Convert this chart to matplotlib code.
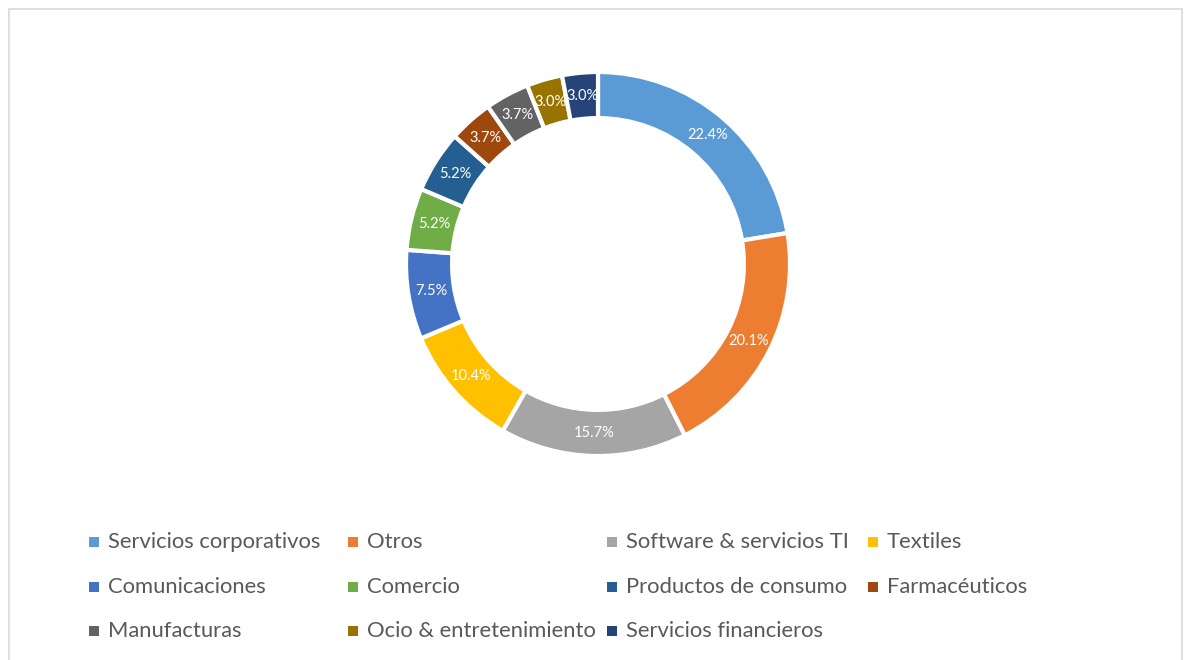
import matplotlib
matplotlib.use("Agg")
import matplotlib.pyplot as plt
from matplotlib.patches import Rectangle
import numpy as np

categories = ["Servicios corporativos", "Otros", "Software & servicios TI", "Textiles",
              "Comunicaciones", "Comercio", "Productos de consumo", "Farmacéuticos",
              "Manufacturas", "Ocio & entretenimiento", "Servicios financieros"]
values = [22.4, 20.1, 15.7, 10.4, 7.5, 5.2, 5.2, 3.7, 3.7, 3.0, 3.0]
colors = ["#5B9BD5", "#ED7D31", "#A5A5A5", "#FFC000", "#4472C4", "#70AD47",
          "#255E91", "#9E480E", "#636363", "#997300", "#264478"]

W, H = 1190, 660
fig = plt.figure(figsize=(W / 100, H / 100), dpi=100)
fig.patch.set_facecolor("white")

# chart border
fig.patches.append(Rectangle((9 / W, -0.01), (1182 - 9) / W, (H - 9) / H + 0.01,
                             transform=fig.transFigure, fill=False,
                             edgecolor="#D9D9D9", linewidth=1.2))

cx, cy, half = 598, 264, 200
ax = fig.add_axes([(cx - half) / W, (H - cy - half) / H, 2 * half / W, 2 * half / H])
r_out = 1.0
scale = half / 192.0

wedges, _ = ax.pie(values, colors=colors, startangle=90, counterclock=False,
                   radius=r_out, wedgeprops=dict(width=0.24, edgecolor="white", linewidth=3))
ax.set_xlim(-scale, scale)
ax.set_ylim(-scale, scale)
ax.set_aspect("equal")
ax.axis("off")

total = sum(values)
ang = 90.0
for v, w in zip(values, wedges):
    mid = ang - v / total * 360 / 2
    ang -= v / total * 360
    rl = 0.88
    ax.text(rl * np.cos(np.radians(mid)), rl * np.sin(np.radians(mid)), f"{v:.1f}%",
            ha="center", va="center", color="white", fontsize=10.5, family="Lato")

# legend
col_x = [94, 353, 612, 873]
row_y = [542, 587, 631]
for i, (c, col) in enumerate(zip(categories, colors)):
    r, k = divmod(i, 4)
    x, y = col_x[k], row_y[r]
    fig.patches.append(Rectangle(((x - 5) / W, (H - y - 5) / H), 10 / W, 10 / H,
                                 transform=fig.transFigure, facecolor=col, edgecolor="none"))
    fig.text((x + 14) / W, (H - y) / H, c, ha="left", va="center",
             color="#595959", fontsize=15.8, family="Lato")

fig.savefig("out.png", dpi=100)
